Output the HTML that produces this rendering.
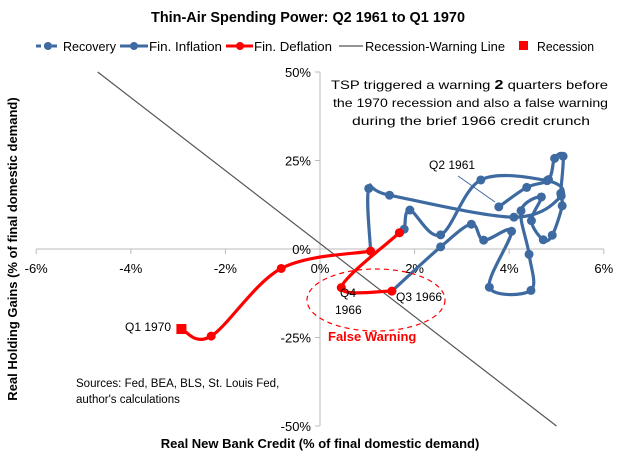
<!DOCTYPE html>
<html><head><meta charset="utf-8"><style>
body{margin:0;background:#fff;}
svg{display:block;font-family:"Liberation Sans",sans-serif;}
</style></head><body>
<svg id="c" width="627" height="457">
<text x="151" y="22" textLength="314" lengthAdjust="spacingAndGlyphs" font-size="15" font-weight="bold" fill="#000">Thin-Air Spending Power: Q2 1961 to Q1 1970</text>
<g font-size="13" fill="#000">
<g><line x1="36" y1="46" x2="60" y2="46" stroke="#3d6aa0" stroke-width="3" stroke-dasharray="5,3"/><circle cx="48" cy="46" r="4" fill="#3d6aa0"/><text x="63" y="51" textLength="53" lengthAdjust="spacingAndGlyphs">Recovery</text></g>
<g><line x1="120" y1="46" x2="148" y2="46" stroke="#3d6aa0" stroke-width="3"/><circle cx="134" cy="46" r="4" fill="#3d6aa0"/><text x="149" y="51" textLength="73" lengthAdjust="spacingAndGlyphs">Fin. Inflation</text></g>
<g><line x1="226" y1="46" x2="253" y2="46" stroke="#f00" stroke-width="3"/><circle cx="240" cy="46" r="4" fill="#f00"/><text x="254" y="51" textLength="78" lengthAdjust="spacingAndGlyphs">Fin. Deflation</text></g>
<g><line x1="339" y1="46" x2="363" y2="46" stroke="#555" stroke-width="1.2"/><text x="365" y="51" textLength="140" lengthAdjust="spacingAndGlyphs">Recession-Warning Line</text></g>
<g><rect x="519" y="41" width="9" height="9" fill="#f00"/><text x="537" y="51" textLength="57" lengthAdjust="spacingAndGlyphs">Recession</text></g>
</g>
<g id="axes"></g>
<g id="marks"></g>
<ellipse cx="376" cy="300" rx="69" ry="31" fill="none" stroke="#f00" stroke-width="1.2" stroke-dasharray="5,4"/>
<text x="328" y="341" font-size="13" font-weight="bold" fill="#f00">False Warning</text>
<g font-size="12" fill="#000">
<text x="340" y="297">Q4</text>
<text x="335" y="314">1966</text>
<text x="396" y="301">Q3 1966</text>
<text x="429" y="169">Q2 1961</text>
<line x1="458" y1="176" x2="495" y2="202" stroke="#3d6aa0" stroke-width="1"/>
<text x="125" y="331">Q1 1970</text>
</g>
<g font-size="12" fill="#000">
<text x="331" y="89" textLength="277" lengthAdjust="spacingAndGlyphs">TSP triggered a warning <tspan font-weight="bold" font-size="13">2</tspan> quarters before</text>
<text x="333" y="107" textLength="275" lengthAdjust="spacingAndGlyphs">the 1970 recession and also a false warning</text>
<text x="352" y="125" textLength="238" lengthAdjust="spacingAndGlyphs">during the brief 1966 credit crunch</text>
</g>
<g font-size="11.5" fill="#000">
<text x="76" y="387">Sources: Fed, BEA, BLS, St. Louis Fed,</text>
<text x="76" y="403">author's calculations</text>
</g>
<text x="320" y="448" text-anchor="middle" font-size="13" font-weight="bold">Real New Bank Credit (% of final domestic demand)</text>
<text transform="translate(17,249) rotate(-90)" text-anchor="middle" font-size="13" font-weight="bold">Real Holding Gains (% of final domestic demand)</text>
</svg>
<script>
const xTicks=[-6,-4,-2,0,2,4,6];
const yTicks=[-50,-25,0,25,50];
const blueX1=[3.78,4.37,4.83,4.96,5.14,5.09,5.12,4.91,4.72,4.47,4.68,4.25,4.42,4.46,3.58,4.05,3.46,3.2,2.55,1.52];
const blueY1=[11.9,17.4,19.6,25.6,26.2,15.7,12.2,3.9,2.6,8.0,14.7,10.8,-1.5,-11.7,-10.8,5.0,2.5,7.0,0.6,-11.9];
const blueX2=[1.68,1.78,1.9,2.55,3.4,4.8,5.1,4.1,1.47,1.03,1.07];
const blueY2=[4.6,5.6,11.0,4.0,19.5,19.3,15.0,9.0,15.2,17.1,-0.6];
const redX1=[1.52,0.45,1.68];
const redY1=[-11.9,-10.9,4.6];
const redX2=[1.07,-0.82,-2.3,-2.93];
const redY2=[-0.6,-5.5,-24.6,-22.6];
const warnX=[-4.7,5.0];
const warnY=[50,-50];
const NS="http://www.w3.org/2000/svg";
function xs(v){return 320+47.3*v;}
function ys(v){return 249-3.54*v;}
function mk(tag,attrs,parent){const e=document.createElementNS(NS,tag);for(const k in attrs)e.setAttribute(k,attrs[k]);parent.appendChild(e);return e;}
const axes=document.getElementById('axes'),marks=document.getElementById('marks');
let ax=mk('line',{x1:xs(-6),y1:ys(0),x2:xs(6),y2:ys(0),stroke:'#bbb'},axes);


let ay=mk('line',{x1:xs(0),y1:ys(50),x2:xs(0),y2:ys(-50),stroke:'#bbb'},axes);


xTicks.forEach(t=>{
 mk('line',{x1:xs(t),y1:ys(0),x2:xs(t),y2:ys(0)+5,stroke:'#bbb'},axes);
 const tx=mk('text',{x:xs(t),y:ys(0)+24,'text-anchor':'middle','font-size':'13'},axes);
 tx.textContent=t+'%';
 
 
});
yTicks.forEach(t=>{
 mk('line',{x1:xs(0)-5,y1:ys(t),x2:xs(0),y2:ys(t),stroke:'#bbb'},axes);
 const tx=mk('text',{x:xs(0)-9,y:ys(t)+5,'text-anchor':'end','font-size':'13'},axes);
 tx.textContent=t+'%';
 
 
});
function smooth(X,Y){
 const p=X.map((x,i)=>[xs(x),ys(Y[i])]);
 let d='M'+p[0][0]+','+p[0][1];
 for(let i=0;i<p.length-1;i++){
  const p0=p[i-1]||p[i],p1=p[i],p2=p[i+1],p3=p[i+2]||p2;
  const c1=[p1[0]+(p2[0]-p0[0])/6,p1[1]+(p2[1]-p0[1])/6];
  const c2=[p2[0]-(p3[0]-p1[0])/6,p2[1]-(p3[1]-p1[1])/6];
  d+=' C'+c1+' '+c2+' '+p2;
 }
 return d;
}
let wl=mk('line',{x1:xs(warnX[0]),y1:ys(warnY[0]),x2:xs(warnX[1]),y2:ys(warnY[1]),stroke:'#555','stroke-width':1.2},marks);


function series(X,Y,col,name,lastSquare){
 const pa=mk('path',{d:smooth(X,Y),fill:'none',stroke:col,'stroke-width':3.2},marks);
 
 
 X.forEach((x,i)=>{
  let e;
  if(lastSquare&&i===X.length-1){e=mk('rect',{x:xs(x)-5,y:ys(Y[i])-5,width:10,height:10,fill:'#f00'},marks);}
  else e=mk('circle',{cx:xs(x),cy:ys(Y[i]),r:4.5,fill:col},marks);
  
  
 });
}
series(blueX1,blueY1,'#3d6aa0','fin-inflation',false);
series(blueX2,blueY2,'#3d6aa0','fin-inflation-late',false);
series(redX1,redY1,'#f00','fin-deflation-1966',false);
series(redX2,redY2,'#f00','fin-deflation-1969',true);
</script>
</body></html>
